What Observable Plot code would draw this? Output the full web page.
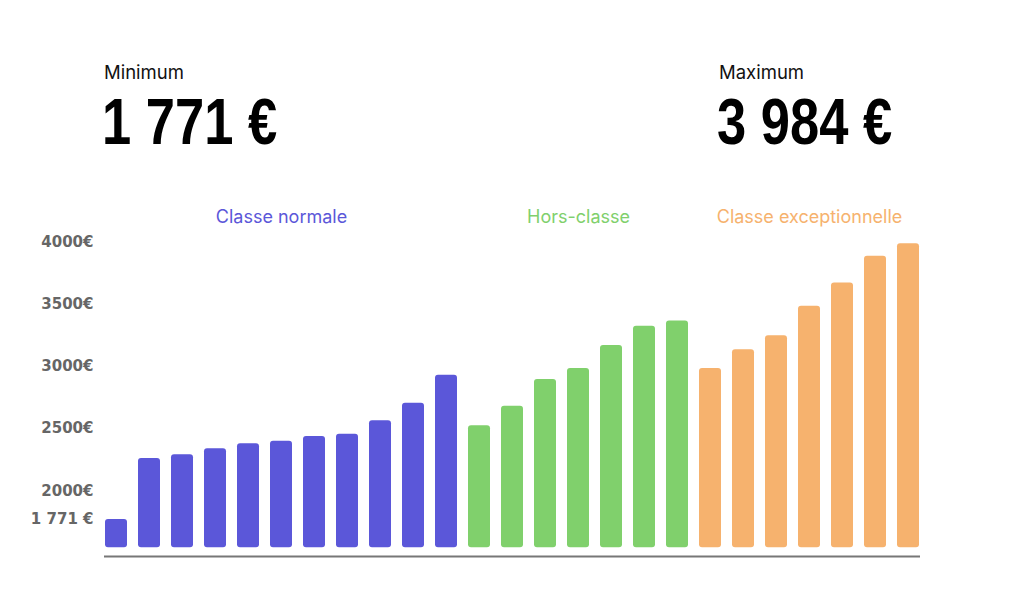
<!DOCTYPE html>
<html>
<head>
<meta charset="utf-8">
<script src="https://cdn.jsdelivr.net/npm/d3@7"></script>
<script src="https://cdn.jsdelivr.net/npm/@observablehq/plot@0.6"></script>
<style>
  html, body { margin: 0; padding: 0; background: #fff; overflow: hidden; }
  #page { position: relative; width: 1024px; height: 595px; background: #fff; font-family: Inter, "Noto Sans", sans-serif; }
  .lbl { position: absolute; font-size: 18.5px; color: #111; line-height: 1; }
  .big { position: absolute; font-family: "Liberation Sans", Arial, sans-serif; font-weight: 700; font-size: 64px; color: #000; line-height: 1; transform: scaleX(0.82); transform-origin: left top; white-space: nowrap; }
  #chart { position: absolute; left: 0; top: 190px; }
</style>
</head>
<body>
<div id="page">
  <div class="lbl" id="minLabel" style="left:104px; top:63px;"></div>
  <div class="big" id="minValue" style="left:102px; top:90px;"></div>
  <div class="lbl" id="maxLabel" style="left:719px; top:63px;"></div>
  <div class="big" id="maxValue" style="left:717px; top:90px;"></div>
  <div id="chart"></div>
</div>
<script>
// Categories (échelons) per grade
const normalSteps = ["CN1","CN2","CN3","CN4","CN5","CN6","CN7","CN8","CN9","CN10","CN11"];
const horsSteps = ["HC1","HC2","HC3","HC4","HC5","HC6","HC7"];
const exceptSteps = ["CE1","CE2","CE3","CE4","CE5","CE6","CE7"];

// Monthly salaries (€)
const normalValues = [1771, 2261, 2290, 2338, 2379, 2399, 2437, 2456, 2563, 2704, 2929];
const horsValues = [2523, 2680, 2895, 2983, 3168, 3322, 3363];
const exceptValues = [2983, 3133, 3245, 3483, 3668, 3884, 3984];

// Group labels and colours
const groupNames = ["Classe normale", "Hors-classe", "Classe exceptionnelle"];
const groupColors = ["#5b57d9", "#80d06c", "#f6b26e"];

// Y axis ticks
const yTicks = [1771, 2000, 2500, 3000, 3500, 4000];
const yDomain = [1474, 4090];
const barBase = 1544;

const groups = [
  {name: groupNames[0], steps: normalSteps, values: normalValues, color: groupColors[0]},
  {name: groupNames[1], steps: horsSteps, values: horsValues, color: groupColors[1]},
  {name: groupNames[2], steps: exceptSteps, values: exceptValues, color: groupColors[2]}
];
const data = groups.flatMap(g => g.steps.map((s, i) => ({step: s, value: g.values[i], group: g.name})));
const labels = groups.map(g => ({name: g.name, step: g.steps[Math.floor(g.steps.length / 2)]}));

const minV = d3.min(data, d => d.value);
const maxV = d3.max(data, d => d.value);
const fmt = v => d3.format(",")(v).replace(",", " ") + " €";
document.getElementById("minLabel").textContent = "Minimum";
document.getElementById("maxLabel").textContent = "Maximum";
document.getElementById("minValue").textContent = fmt(minV);
document.getElementById("maxValue").textContent = fmt(maxV);

const chart = Plot.plot({
  width: 1024,
  height: 380,
  marginLeft: 104,
  marginRight: 104,
  marginTop: 40,
  marginBottom: 14,
  style: {background: "transparent", overflow: "visible"},
  x: {domain: data.map(d => d.step), paddingInner: 0.33, paddingOuter: 0, axis: null},
  y: {domain: yDomain},
  color: {domain: groupNames, range: groupColors},
  marks: [
    Plot.axisY({
      ticks: yTicks,
      tickSize: 0,
      tickPadding: 11,
      tickFormat: d => d === minV ? fmt(d) : d + "€",
      label: null,
      fill: "#666",
      fontSize: 15,
      fontWeight: 700,
      fontFamily: "DejaVu Sans, sans-serif"
    }),
    Plot.barY(data, {x: "step", y1: barBase, y2: "value", fill: "group", rx: 3}),
    Plot.ruleY([yDomain[0]], {stroke: "#777", strokeWidth: 2}),
    Plot.text(labels, {
      x: "step",
      text: "name",
      frameAnchor: "top",
      dy: -13,
      lineAnchor: "middle",
      fill: d => d.name,
      fontSize: 18,
      fontFamily: "Inter, sans-serif"
    })
  ]
});
document.getElementById("chart").appendChild(chart);
</script>
</body>
</html>
